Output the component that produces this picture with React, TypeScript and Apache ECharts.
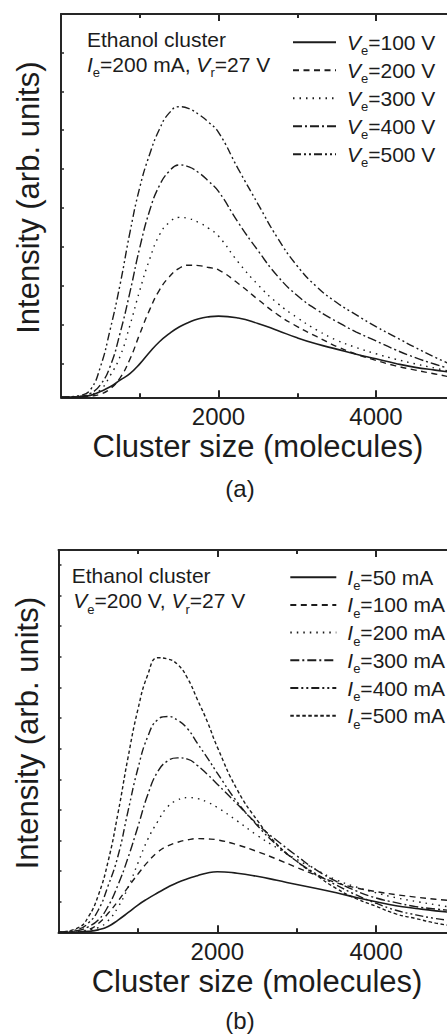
import { useEffect, useRef } from "react";
import * as echarts from "echarts";

// Cluster size (molecules) sample positions shared by all curves
const clusterSize = [0, 250, 375, 500, 625, 750, 875, 1000, 1125, 1250, 1375, 1500, 1625, 1750, 1875, 2000, 2250, 2500, 2750, 3000, 3250, 3500, 3750, 4000, 4250, 4500, 4750, 5000];

// Panel (a): Ie = 200 mA, Vr = 27 V, varying Ve
const ve100 = [0, 0.01, 0.05, 0.15, 0.27, 0.44, 0.61, 0.86, 1.16, 1.43, 1.64, 1.81, 1.93, 2.02, 2.07, 2.09, 2.04, 1.9, 1.72, 1.53, 1.37, 1.24, 1.11, 0.99, 0.87, 0.77, 0.7, 0.63];
const ve200 = [0, 0.01, 0.03, 0.08, 0.22, 0.5, 0.98, 1.63, 2.25, 2.76, 3.1, 3.32, 3.4, 3.39, 3.34, 3.28, 2.93, 2.52, 2.13, 1.82, 1.56, 1.31, 1.11, 0.95, 0.81, 0.7, 0.6, 0.5];
const ve300 = [0, 0.02, 0.07, 0.19, 0.56, 1.05, 1.85, 2.75, 3.55, 4.18, 4.5, 4.63, 4.6, 4.5, 4.35, 4.15, 3.48, 2.9, 2.42, 2.05, 1.73, 1.47, 1.28, 1.12, 0.98, 0.86, 0.75, 0.64];
const ve400 = [0, 0.03, 0.1, 0.32, 0.8, 1.65, 2.7, 3.85, 4.8, 5.45, 5.82, 5.98, 5.93, 5.78, 5.56, 5.3, 4.5, 3.78, 3.12, 2.62, 2.25, 1.95, 1.68, 1.45, 1.22, 1.02, 0.85, 0.7];
const ve500 = [0, 0.05, 0.2, 0.78, 1.75, 2.9, 4.24, 5.4, 6.25, 6.9, 7.32, 7.48, 7.43, 7.28, 7.08, 6.82, 5.88, 4.98, 4.1, 3.38, 2.84, 2.44, 2.12, 1.82, 1.55, 1.28, 1.03, 0.8];

// Panel (b): Ve = 200 V, Vr = 27 V, varying Ie
const ie50 = [0, 0.01, 0.03, 0.08, 0.19, 0.4, 0.64, 0.89, 1.1, 1.29, 1.47, 1.63, 1.75, 1.85, 1.94, 1.98, 1.93, 1.83, 1.7, 1.56, 1.43, 1.29, 1.14, 1.0, 0.87, 0.78, 0.7, 0.64];
const ie100 = [0, 0.02, 0.08, 0.28, 0.62, 1.02, 1.47, 1.9, 2.3, 2.62, 2.82, 2.94, 3.02, 3.06, 3.05, 3.02, 2.86, 2.64, 2.39, 2.12, 1.86, 1.62, 1.45, 1.33, 1.23, 1.15, 1.08, 1.02];
const ie200 = [0, 0.03, 0.08, 0.15, 0.38, 0.82, 1.46, 2.26, 3.04, 3.62, 4.1, 4.32, 4.4, 4.37, 4.25, 4.08, 3.64, 3.17, 2.76, 2.38, 2.04, 1.71, 1.48, 1.29, 1.13, 1.01, 0.9, 0.8];
const ie300 = [0, 0.06, 0.18, 0.4, 0.85, 1.55, 2.43, 3.45, 4.5, 5.25, 5.6, 5.7, 5.66, 5.45, 5.16, 4.84, 4.19, 3.54, 3.0, 2.5, 2.03, 1.66, 1.35, 1.12, 0.97, 0.84, 0.76, 0.7];
const ie400 = [0, 0.1, 0.3, 0.72, 1.52, 2.5, 3.95, 5.35, 6.4, 6.95, 7.05, 6.93, 6.65, 6.17, 5.7, 5.2, 4.26, 3.5, 2.85, 2.32, 1.9, 1.54, 1.22, 0.95, 0.72, 0.57, 0.45, 0.37];
const ie500 = [0, 0.15, 0.5, 1.2, 2.32, 3.9, 5.7, 7.28, 8.42, 8.97, 8.93, 8.75, 8.3, 7.6, 6.88, 6.05, 4.66, 3.67, 2.88, 2.32, 1.86, 1.43, 1.1, 0.85, 0.6, 0.45, 0.3, 0.2];

const namesA = ["Ve=100 V", "Ve=200 V", "Ve=300 V", "Ve=400 V", "Ve=500 V"];
const namesB = ["Ie=50 mA", "Ie=100 mA", "Ie=200 mA", "Ie=300 mA", "Ie=400 mA", "Ie=500 mA"];

// Tick positions / labels
const xTickLabels = [2000, 4000];
const xMinorTicks = [1000, 3000];
const yTicksA = [0.875, 1.875, 2.875, 3.875, 4.875, 5.875, 6.875, 7.875, 8.875];
const yTicksB = [1, 2, 3, 4, 5, 6, 7, 8, 9, 10, 11, 12];

const FONT = "'Liberation Sans', Arial, Helvetica, sans-serif";
const INK = "#1c1c1c";
const AXIS = "#262626";

const dashes: any[] = [
  "solid",
  [6, 4.5],
  [1.5, 5],
  [9, 3, 2, 3],
  [8, 3, 2, 3, 2, 3],
  [3.5, 2.5],
];

const rich = (pad: number) => ({
  i: { fontStyle: "italic", fontSize: 21, lineHeight: 30, verticalAlign: "middle", fontFamily: FONT, color: INK, padding: [0, 0, 0, pad] },
  s: { fontSize: 13, lineHeight: 8, verticalAlign: "bottom", fontFamily: FONT, color: INK },
  t: { fontSize: 21, lineHeight: 30, verticalAlign: "middle", fontFamily: FONT, color: INK },
});

const fmtName = (name: string) => `{i|${name[0]}}{s|${name[1]}}{t|${name.slice(2)}}`;

export default function App() {
  const ref = useRef<HTMLDivElement>(null);
  useEffect(() => {
    if (!ref.current) return;
    const chart = echarts.init(ref.current, null, { renderer: "svg" });

    const gridA = { left: 61, top: 14, width: 393.75, height: 383.3 };
    const gridB = { left: 58.5, top: 550, width: 397, height: 382.3 };
    const gridBase = { containLabel: false, outerBoundsMode: "none", show: false };

    const tickStyle = { color: AXIS, width: 2 };
    const mainX = (gridIndex: number, position: string, withLabel: boolean) => ({
      type: "value",
      gridIndex,
      position,
      min: 0,
      max: 5000,
      axisLine: { show: true, onZero: false, lineStyle: { color: AXIS, width: 2 } },
      axisTick: { show: true, inside: true, length: 7, customValues: xTickLabels, lineStyle: tickStyle },
      axisLabel: withLabel
        ? { show: true, customValues: xTickLabels, margin: 7, fontSize: 24, color: INK, fontFamily: FONT, formatter: (v: number) => String(v) }
        : { show: false },
      splitLine: { show: false },
      ...(withLabel
        ? {
            name: "Cluster size (molecules)",
            nameLocation: "middle",
            nameGap: 34,
            nameTextStyle: { fontSize: 31, color: INK, fontFamily: FONT },
          }
        : {}),
    });
    const minorX = (gridIndex: number, position: string) => ({
      type: "value",
      gridIndex,
      position,
      min: 0,
      max: 5000,
      axisLine: { show: false, onZero: false },
      axisTick: { show: true, inside: true, length: 4, customValues: xMinorTicks, lineStyle: tickStyle },
      axisLabel: { show: false },
      splitLine: { show: false },
    });
    const mainY = (gridIndex: number, max: number, ticks: number[], gap: number) => ({
      type: "value",
      gridIndex,
      position: "left",
      min: 0,
      max,
      axisLine: { show: true, onZero: false, lineStyle: { color: AXIS, width: 2 } },
      axisTick: { show: true, inside: true, length: 3, customValues: ticks, lineStyle: { color: AXIS, width: 1.5 } },
      axisLabel: { show: false },
      splitLine: { show: false },
      name: "Intensity (arb. units)",
      nameLocation: "middle",
      nameGap: gap,
      nameTextStyle: { fontSize: 31, color: INK, fontFamily: FONT, padding: [0, 0, 0, 16] },
    });
    const hiddenY = (gridIndex: number, max: number) => ({
      type: "value",
      gridIndex,
      min: 0,
      max,
      show: false,
      splitLine: { show: false },
    });

    const mk = (name: string, data: number[], xi: number, yi: number, k: number) => ({
      type: "line",
      name,
      xAxisIndex: xi,
      yAxisIndex: yi,
      data: clusterSize.map((x, i) => [x, data[i]]),
      symbol: "none",
      showSymbol: false,
      smooth: 0.5,
      silent: true,
      lineStyle: { color: INK, width: k === 0 ? 1.6 : 1.4, type: dashes[k] },
      itemStyle: { color: INK },
    });

    const seriesA = [ve100, ve200, ve300, ve400, ve500].map((d, k) => mk(namesA[k], d, 0, 0, k));
    const seriesB = [ie50, ie100, ie200, ie300, ie400, ie500].map((d, k) => mk(namesB[k], d, 4, 2, k));

    const legendBase = {
      orient: "vertical",
      padding: 0,
      itemHeight: 14,
      selectedMode: false,
      formatter: fmtName,
      itemStyle: { opacity: 0, borderWidth: 0 },
      textStyle: { fontSize: 21, color: INK, fontFamily: FONT, rich: rich(6) },
    };

    const annoRich = rich(0);
    const option: any = {
      animation: false,
      backgroundColor: "#ffffff",
      grid: [
        { ...gridBase, ...gridA },
        { ...gridBase, ...gridA },
        { ...gridBase, ...gridB },
        { ...gridBase, ...gridB },
      ],
      xAxis: [
        mainX(0, "bottom", true),
        mainX(0, "top", false),
        minorX(1, "bottom"),
        minorX(1, "top"),
        mainX(2, "bottom", true),
        mainX(2, "top", false),
        minorX(3, "bottom"),
        minorX(3, "top"),
      ],
      yAxis: [
        mainY(0, 9.866, yTicksA, 17),
        hiddenY(1, 9.866),
        mainY(2, 12.49, yTicksB, 15.5),
        hiddenY(3, 12.49),
      ],
      legend: [
        { ...legendBase, data: namesA, left: 292, top: 31.7, itemWidth: 43, itemGap: 2.5 },
        { ...legendBase, data: namesB, left: 289.3, top: 566.7, itemWidth: 46, itemGap: 2.2 },
      ],
      graphic: [
        { type: "text", x: 87, y: 39.2, style: { text: "Ethanol cluster", fontSize: 21, fontFamily: FONT, fill: INK, verticalAlign: "middle" } },
        { type: "text", x: 87, y: 64.2, style: { text: "{i|I}{s|e}{t|=200 mA, }{i|V}{s|r}{t|=27 V}", rich: annoRich, fontSize: 21, fontFamily: FONT, fill: INK, verticalAlign: "middle" } },
        { type: "text", x: 240, y: 488, style: { text: "(a)", fontSize: 24, fontFamily: FONT, fill: INK, align: "center", verticalAlign: "middle" } },
        { type: "text", x: 71.7, y: 575.8, style: { text: "Ethanol cluster", fontSize: 21, fontFamily: FONT, fill: INK, verticalAlign: "middle" } },
        { type: "text", x: 73.3, y: 600.8, style: { text: "{i|V}{s|e}{t|=200 V, }{i|V}{s|r}{t|=27 V}", rich: annoRich, fontSize: 21, fontFamily: FONT, fill: INK, verticalAlign: "middle" } },
        { type: "text", x: 240, y: 1020, style: { text: "(b)", fontSize: 24, fontFamily: FONT, fill: INK, align: "center", verticalAlign: "middle" } },
      ],
      series: [...seriesA, ...seriesB],
    };
    chart.setOption(option);
    return () => chart.dispose();
  }, []);

  return <div ref={ref} style={{ position: "absolute", left: 0, top: 0, width: 447, height: 1034, background: "#fff" }} />;
}
